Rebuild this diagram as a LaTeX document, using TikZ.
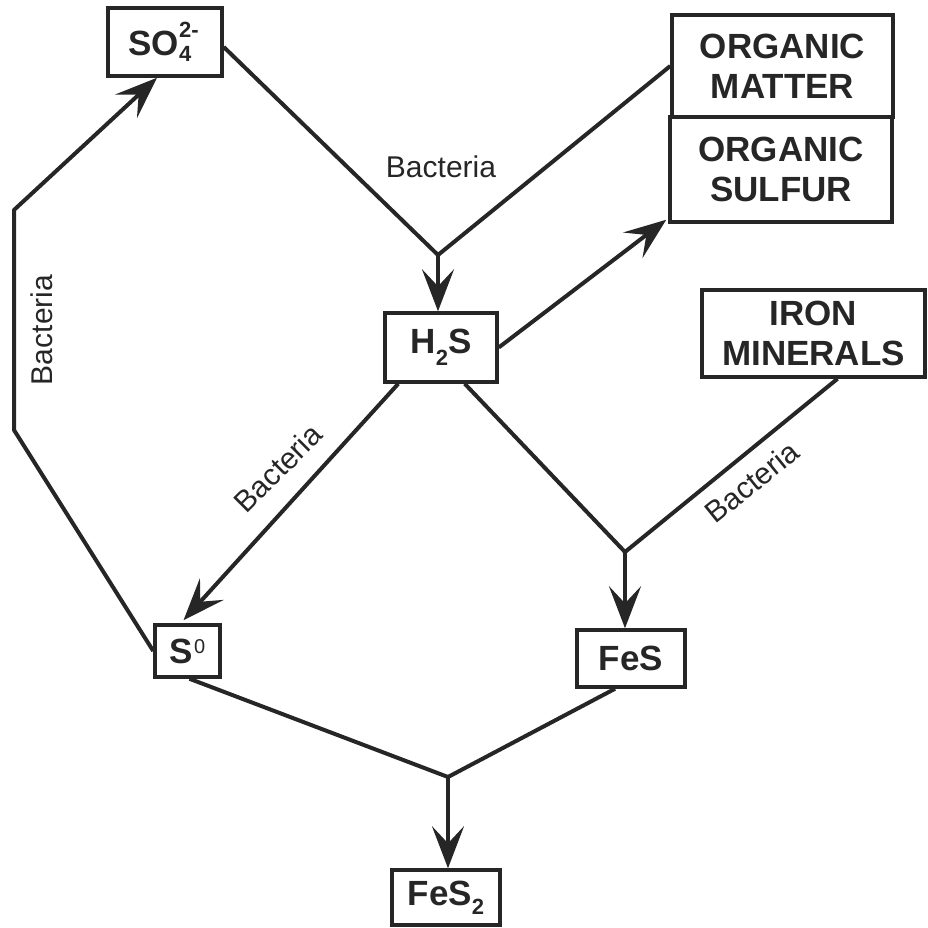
\documentclass[tikz,border=0pt]{standalone}
\usepackage{fontspec}
\setmainfont{Liberation Sans}
\usetikzlibrary{arrows.meta,calc}
\definecolor{ink}{RGB}{38,38,38}
\newcommand{\subsz}{\fontsize{22}{22}\selectfont}
\begin{document}
\begin{tikzpicture}[x=1pt,y=-1pt,
  box/.style={draw=ink,line width=3.5pt,inner sep=0pt,align=center,
    font=\fontsize{35}{40}\selectfont\bfseries,text=ink},
  conn/.style={draw=ink,line width=4pt,line join=round},
  arr/.style={conn,-{Stealth[length=42pt,width=32pt,inset=17pt]}},
  lbl/.style={font=\fontsize{30}{30}\selectfont,text=ink,inner sep=0pt}]
\useasboundingbox (0,0) rectangle (928,928);
% boxes
\node[box,minimum width=114pt,minimum height=68pt] (so4) at (165,42)
  {SO\rlap{\raisebox{18pt}{\subsz 2-}}\raisebox{-6pt}{\subsz 4}\hspace{10pt}};
\node[box,minimum width=221pt,minimum height=102pt] (om) at (782.5,66) {ORGANIC\\MATTER};
\node[box,minimum width=222pt,minimum height=105pt] (os) at (781,169.5) {ORGANIC\\SULFUR};
\node[box,minimum width=112pt,minimum height=69pt] (h2s) at (441,347.5)
  {H\raisebox{-12pt}{\subsz 2}S};
\node[box,minimum width=223pt,minimum height=87pt] (im) at (813.5,333.5) {IRON\\MINERALS};
\node[box,minimum width=65pt,minimum height=52pt] (s0) at (187.5,651)
  {S\hspace{1pt}\raisebox{10pt}{\fontsize{20}{20}\selectfont\mdseries 0}};
\node[box,minimum width=108pt,minimum height=57pt] (fes) at (631,658.5) {FeS};
\node[box,minimum width=108pt,minimum height=55pt] (fes2) at (446,897.5)
  {FeS\raisebox{-9pt}{\subsz 2}};
% junctions and bends
\coordinate (j1) at (438,255);
\coordinate (j2) at (625,552);
\coordinate (j3) at (448,777);
\coordinate (l1) at (14,430);
\coordinate (l2) at (14,210);
% connectors
\draw[conn] ($(so4.east)+(0,5)$) -- (j1);
\draw[conn] (om.west) -- (j1);
\draw[arr] (j1) -- (j1 |- h2s.north);
\draw[arr] (h2s.east) -- ($(os.south west)+(-2,-4)$);
\draw[arr] ($(h2s.south west)+(15,0)$) -- ($(s0.north)+(-4,-3)$);
\draw[conn] ($(h2s.south east)+(-34,0)$) -- (j2);
\draw[conn] ($(im.south)+(24,0)$) -- (j2);
\draw[arr] (j2) -- (j2 |- fes.north);
\draw[arr] (s0.west) -- (l1) -- (l2) -- ($(so4.south)+(-8,0)$);
\draw[conn] ($(s0.south)+(2,0)$) -- (j3);
\draw[conn] ($(fes.south)+(-16,0)$) -- (j3);
\draw[arr] (j3) -- (j3 |- fes2.north);
% labels
\node[lbl] (b1) at (441,167) {Bacteria};
\node[lbl,rotate=90] (b2) at (42,330) {Bacteria};
\node[lbl,rotate=45] (b3) at (278,468) {Bacteria};
\node[lbl,rotate=39] (b4) at (752,482) {Bacteria};
\end{tikzpicture}
\end{document}
